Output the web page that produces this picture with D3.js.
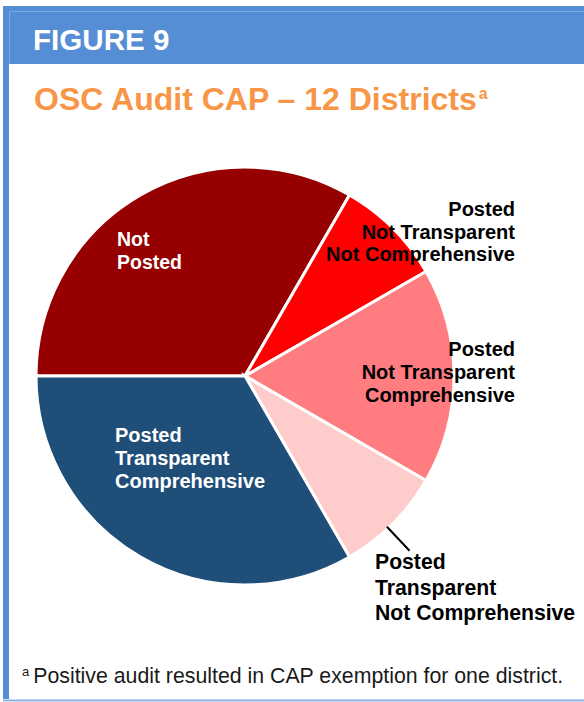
<!DOCTYPE html>
<html>
<head>
<meta charset="utf-8">
<script src="https://cdn.jsdelivr.net/npm/d3@7/dist/d3.min.js"></script>
<style>
  html, body { margin: 0; padding: 0; background: #ffffff; }
  svg { display: block; }
  text { font-family: "Liberation Sans", Arial, sans-serif; }
</style>
</head>
<body>
<svg id="chart" width="584" height="702"></svg>
<script>
// ---- data ----
const categories = [
  "Not Posted",
  "Posted Not Transparent Not Comprehensive",
  "Posted Not Transparent Comprehensive",
  "Posted Transparent Not Comprehensive",
  "Posted Transparent Comprehensive"
];
const districtCounts = [4, 1, 2, 1, 4];
const labelLines = [
  ["Not", "Posted"],
  ["Posted", "Not Transparent", "Not Comprehensive"],
  ["Posted", "Not Transparent", "Comprehensive"],
  ["Posted", "Transparent", "Not Comprehensive"],
  ["Posted", "Transparent", "Comprehensive"]
];
const figureLabel = "FIGURE 9";
const titleText = "OSC Audit CAP \u2013 12 Districts";
const footnoteText = "Positive audit resulted in CAP exemption for one district.";

// ---- styles / layout ----
const colors = ["#960000", "#ff0000", "#ff7c80", "#ffcccc", "#1f4e79"];
const labelStyle = [
  { x: 117, y: 246, anchor: "start", fill: "#ffffff", dy: 22.7, size: 19.5 },
  { x: 515, y: 216, anchor: "end",   fill: "#000000", dy: 22.7, size: 20 },
  { x: 515, y: 356, anchor: "end",   fill: "#000000", dy: 22.8, size: 20 },
  { x: 375, y: 569, anchor: "start", fill: "#000000", dy: 25.5, size: 21.2 },
  { x: 115, y: 442, anchor: "start", fill: "#ffffff", dy: 23, size: 20 }
];

const svg = d3.select("#chart");
const W = 584, H = 702;

// frame
svg.append("rect").attr("x", 3).attr("y", 6).attr("width", W - 3).attr("height", 58).attr("fill", "#558ed5");
svg.append("rect").attr("x", 3).attr("y", 6).attr("width", 6).attr("height", 693).attr("fill", "#558ed5");
svg.append("line").attr("x1", 9.5).attr("x2", W).attr("y1", 11.5).attr("y2", 11.5)
  .attr("stroke", "#7eaae2").attr("stroke-width", 1);
svg.append("line").attr("x1", 9.5).attr("x2", 9.5).attr("y1", 11.5).attr("y2", 64)
  .attr("stroke", "#7eaae2").attr("stroke-width", 1);
svg.append("line").attr("x1", 3).attr("x2", W).attr("y1", 700.5).attr("y2", 700.5)
  .attr("stroke", "#8db3e6").attr("stroke-width", 2);

svg.append("text").attr("x", 33).attr("y", 50)
  .attr("fill", "#ffffff").attr("font-weight", "bold").attr("font-size", 29.6)
  .text(figureLabel);

const title = svg.append("text").attr("x", 34).attr("y", 110)
  .attr("fill", "#f79646").attr("font-weight", "bold").attr("font-size", 32);
title.append("tspan").text(titleText);
title.append("tspan").attr("font-size", 16).attr("dy", -11).attr("dx", 2).text("a");

// pie
const cx = 245, cy = 376, R = 209;
const g = svg.append("g").attr("transform", `translate(${cx},${cy})`);
const pie = d3.pie().sort(null).value(d => d.v)
  .startAngle(-Math.PI / 2).endAngle(Math.PI * 1.5);
const arcs = pie(categories.map((c, i) => ({ c, v: districtCounts[i], i })));
const arc = d3.arc().innerRadius(0).outerRadius(R);

g.selectAll("path.slice").data(arcs).join("path")
  .attr("class", "slice")
  .attr("d", arc)
  .attr("fill", d => colors[d.data.i])
  .attr("stroke", "#ffffff")
  .attr("stroke-width", 3)
  .attr("stroke-linejoin", "miter");

// leader line for small bottom slice
const lead = arcs[3];
const midA = (lead.startAngle + lead.endAngle) / 2 + 0.03;
g.append("line")
  .attr("x1", Math.sin(midA) * (R - 2)).attr("y1", -Math.cos(midA) * (R - 2))
  .attr("x2", Math.sin(midA) * 240).attr("y2", -Math.cos(midA) * 240)
  .attr("stroke", "#000000").attr("stroke-width", 2);

// labels
arcs.forEach((d) => {
  const s = labelStyle[d.data.i];
  const t = svg.append("text")
    .attr("text-anchor", s.anchor)
    .attr("fill", s.fill)
    .attr("font-weight", "bold")
    .attr("font-size", s.size);
  labelLines[d.data.i].forEach((line, j) => {
    t.append("tspan").attr("x", s.x).attr("y", s.y + j * s.dy).text(line);
  });
});

// footnote
const fn = svg.append("text").attr("x", 22).attr("y", 683)
  .attr("fill", "#1a1a1a").attr("font-size", 21.3);
fn.append("tspan").attr("font-size", 13).attr("dy", -7).text("a");
fn.append("tspan").attr("dy", 7).attr("dx", 4).text(footnoteText);
</script>
</body>
</html>
